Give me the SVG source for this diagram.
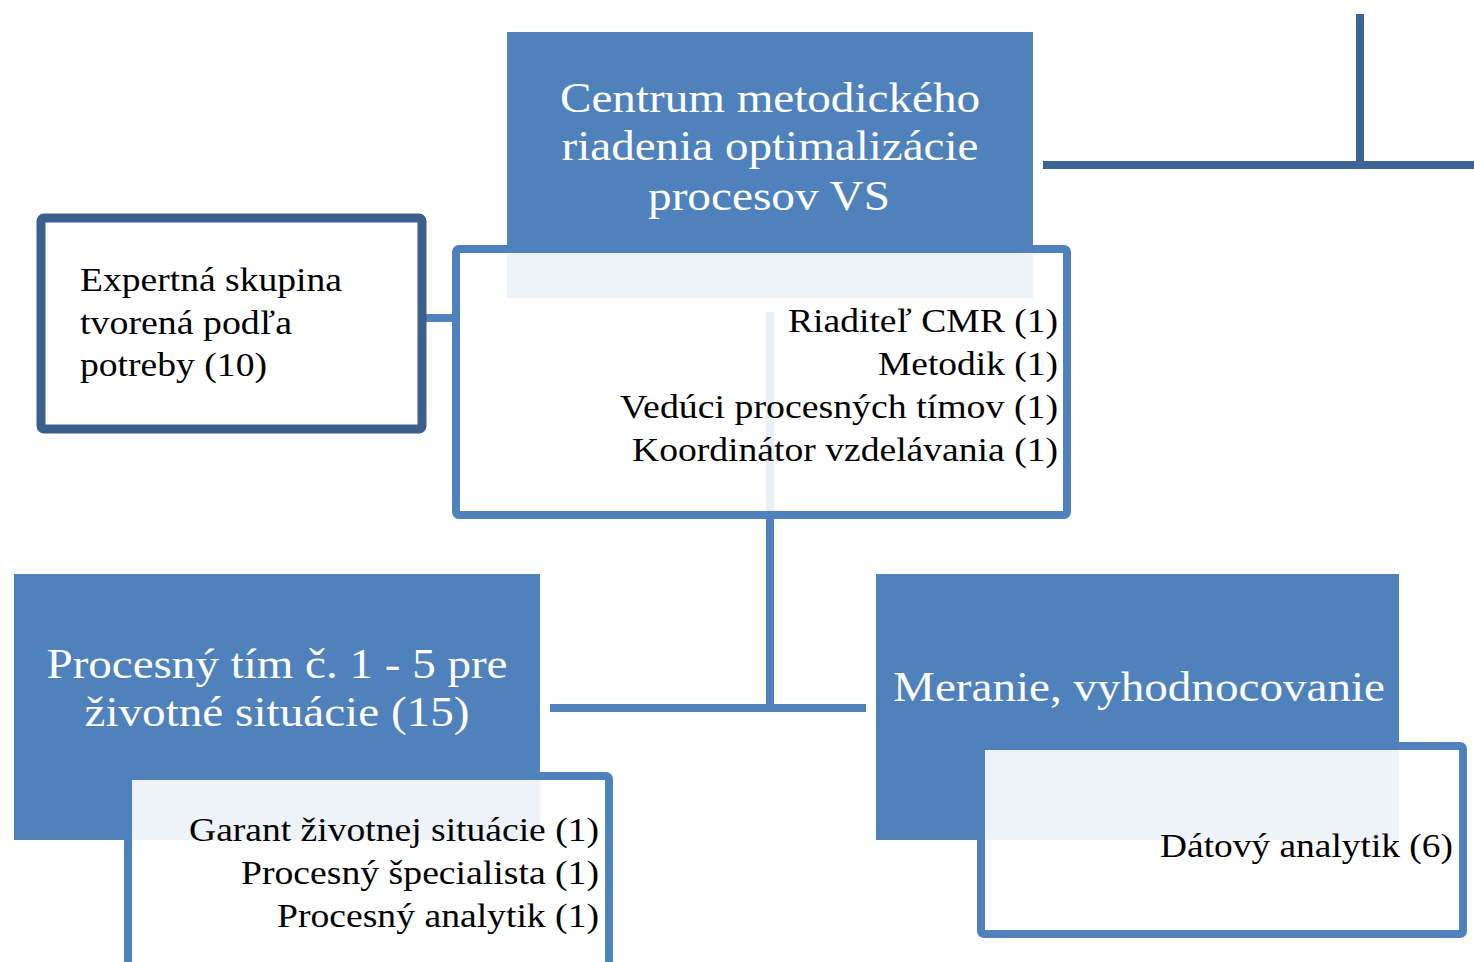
<svg xmlns="http://www.w3.org/2000/svg" width="1474" height="962" viewBox="0 0 1474 962">
<style>
.blue{fill:#4f81bd}
.sub{fill:#ffffff;fill-opacity:0.9;stroke:#4f81bd;stroke-width:8}
.dark{fill:#ffffff;stroke:#3b5e8c;stroke-width:9}
.ttl{font-family:"Liberation Serif","Times New Roman",serif;font-size:43px;fill:#ffffff;text-anchor:middle}
.itm{font-family:"Liberation Serif","Times New Roman",serif;font-size:34px;fill:#000000;text-anchor:end}
.lft{font-family:"Liberation Serif","Times New Roman",serif;font-size:34px;fill:#000000}
.c1{stroke:#4f81bd;stroke-width:8;fill:none}
.c2{stroke:#3c6496;stroke-width:8;fill:none}
.ghost{stroke:#e9eff7;stroke-width:8}
</style>
<rect width="1474" height="962" fill="#ffffff"/>
<g id="connectors">
<line class="c2" x1="1043" y1="165" x2="1474" y2="165"/>
<line class="c2" x1="1360" y1="14" x2="1360" y2="168"/>
<line class="c1" x1="423" y1="318" x2="457" y2="318"/>
<line class="c1" x1="770" y1="516" x2="770" y2="712"/>
<line class="c1" x1="550" y1="708" x2="866" y2="708"/>
</g>
<g id="expert">
<rect class="dark" x="41" y="218" width="381" height="211" rx="3"/>
<text class="lft" x="80" y="291" textLength="262" lengthAdjust="spacingAndGlyphs">Expertná skupina</text>
<text class="lft" x="80" y="334" textLength="212" lengthAdjust="spacingAndGlyphs">tvorená podľa</text>
<text class="lft" x="80" y="376" textLength="187" lengthAdjust="spacingAndGlyphs">potreby (10)</text>
</g>
<g id="centrum">
<rect class="blue" x="507" y="32" width="526" height="266"/>
<text class="ttl" x="770" y="112" textLength="420" lengthAdjust="spacingAndGlyphs">Centrum metodického</text>
<text class="ttl" x="770" y="160" textLength="417" lengthAdjust="spacingAndGlyphs">riadenia optimalizácie</text>
<text class="ttl" x="769" y="210" textLength="242" lengthAdjust="spacingAndGlyphs">procesov VS</text>
</g>
<g id="centrum-roles">
<rect class="sub" x="456" y="249" width="611" height="266" rx="3"/>
<line class="ghost" x1="770" y1="312" x2="770" y2="511"/>
<text class="itm" x="1058" y="332" textLength="270" lengthAdjust="spacingAndGlyphs">Riaditeľ CMR (1)</text>
<text class="itm" x="1058" y="375" textLength="180" lengthAdjust="spacingAndGlyphs">Metodik (1)</text>
<text class="itm" x="1058" y="418" textLength="438" lengthAdjust="spacingAndGlyphs">Vedúci procesných tímov (1)</text>
<text class="itm" x="1058" y="461" textLength="426" lengthAdjust="spacingAndGlyphs">Koordinátor vzdelávania (1)</text>
</g>
<g id="procesny-tim">
<rect class="blue" x="14" y="574" width="526" height="266"/>
<text class="ttl" x="277" y="678" textLength="461" lengthAdjust="spacingAndGlyphs">Procesný tím č. 1 - 5 pre</text>
<text class="ttl" x="277" y="726" textLength="385" lengthAdjust="spacingAndGlyphs">životné situácie (15)</text>
</g>
<g id="procesny-roles">
<rect class="sub" x="128" y="776" width="481" height="200" rx="3"/>
<text class="itm" x="599" y="841" textLength="410" lengthAdjust="spacingAndGlyphs">Garant životnej situácie (1)</text>
<text class="itm" x="599" y="884" textLength="358" lengthAdjust="spacingAndGlyphs">Procesný špecialista (1)</text>
<text class="itm" x="599" y="927" textLength="322" lengthAdjust="spacingAndGlyphs">Procesný analytik (1)</text>
</g>
<g id="meranie">
<rect class="blue" x="876" y="574" width="523" height="266"/>
<text class="ttl" x="1139" y="701" textLength="492" lengthAdjust="spacingAndGlyphs">Meranie, vyhodnocovanie</text>
</g>
<g id="meranie-roles">
<rect class="sub" x="981" y="746" width="482" height="188" rx="3"/>
<text class="itm" x="1453" y="857" textLength="293" lengthAdjust="spacingAndGlyphs">Dátový analytik (6)</text>
</g>
</svg>
